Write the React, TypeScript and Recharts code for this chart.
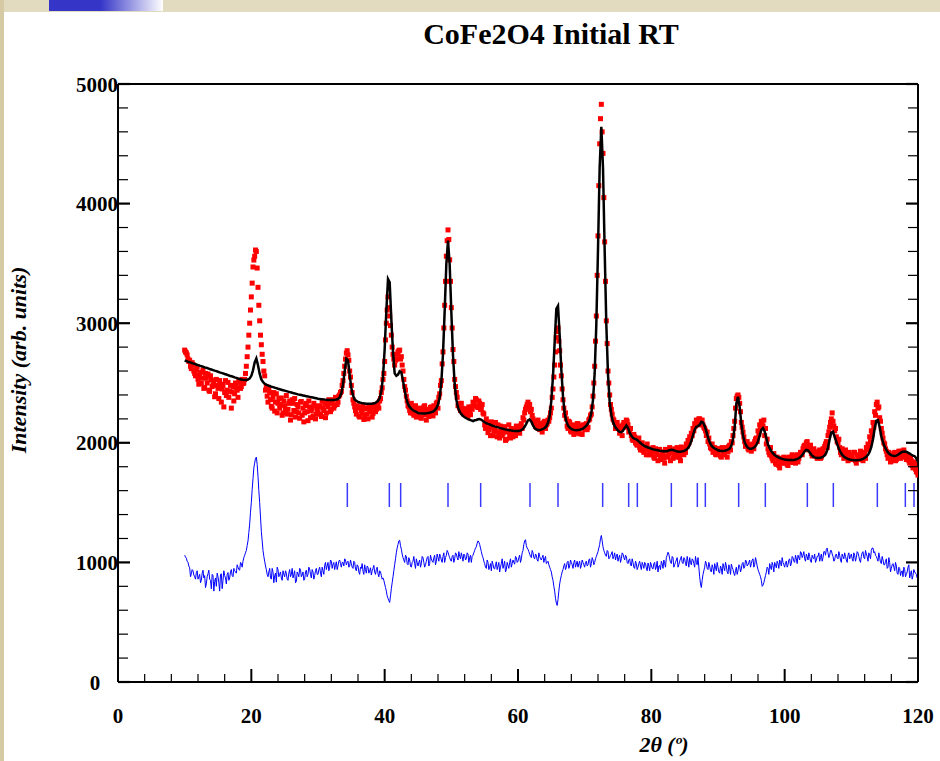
import React from "react";
import { ComposedChart, Scatter, Line, XAxis, YAxis, ReferenceLine } from "recharts";

// scan grid: 10° .. 120° every 0.25°, plus the in-between steps (10.125 .. 119.875)
const X_START = 10;
const X_STEP = 0.25;

// observed intensity (red squares), main steps
const observed = [
  2775, 2752, 2700, 2690, 2620, 2655, 2580, 2612, 2530, 2570, 2498, 2610, 2462, 2540, 2575, 2430, 2525, 2480, 2385, 2530,
  2455, 2520, 2340, 2480, 2420, 2395, 2505, 2430, 2290, 2470, 2410, 2462, 2380, 2505, 2470, 2495, 2530, 2640, 2800, 3000,
  3220, 3470, 3560, 3600, 3300, 3020, 2820, 2680, 2560, 2470, 2340, 2420, 2305, 2380, 2265, 2410, 2330, 2290, 2375, 2250,
  2310, 2395, 2280, 2350, 2235, 2330, 2370, 2260, 2300, 2205, 2345, 2290, 2250, 2330, 2185, 2300, 2270, 2225, 2310, 2240,
  2255, 2310, 2220, 2290, 2330, 2250, 2300, 2335, 2280, 2360, 2310, 2375, 2340, 2400, 2430, 2520, 2640, 2750, 2735, 2600,
  2480, 2360, 2300, 2240, 2290, 2215, 2270, 2310, 2230, 2285, 2200, 2260, 2300, 2245, 2320, 2280, 2330, 2350, 2420, 2530,
  2680, 3000, 3220, 3060, 2900, 2740, 2650, 2700, 2760, 2775, 2720, 2600, 2470, 2390, 2310, 2270, 2330, 2245, 2290, 2215,
  2230, 2290, 2205, 2270, 2310, 2190, 2265, 2240, 2300, 2225, 2280, 2330, 2290, 2410, 2520, 2760, 3150, 3560, 3780, 3530,
  3130, 2780, 2530, 2420, 2310, 2290, 2330, 2255, 2240, 2285, 2220, 2265, 2300, 2340, 2310, 2360, 2295, 2330, 2280, 2250,
  2150, 2200, 2085, 2130, 2175, 2060, 2120, 2095, 2150, 2040, 2110, 2080, 2135, 2030, 2100, 2065, 2120, 2050, 2090, 2140,
  2120, 2080, 2160, 2210, 2250, 2300, 2340, 2320, 2280, 2200, 2170, 2130, 2190, 2110, 2160, 2140, 2180, 2150, 2190, 2210,
  2290, 2450, 2650, 2880, 2960, 2770, 2560, 2360, 2230, 2200, 2120, 2170, 2090, 2145, 2080, 2130, 2160, 2075, 2125, 2150,
  2110, 2160, 2130, 2200, 2240, 2390, 2640, 3060, 3730, 4500, 4830, 4420, 3680, 3020, 2600, 2400, 2280, 2200, 2170, 2150,
  2130, 2080, 2110, 2150, 2160, 2190, 2150, 2100, 2060, 2020, 2050, 1990, 2010, 1960, 1990, 1935, 1970, 1900, 1945, 1920,
  1900, 1960, 1870, 1925, 1850, 1945, 1890, 1910, 1830, 1935, 1880, 1960, 1920, 1870, 1950, 1900, 1940, 1880, 1965, 1920,
  1950, 1990, 2020, 2050, 2080, 2120, 2160, 2190, 2170, 2200, 2180, 2150, 2120, 2060, 2010, 1990, 1950, 1920, 1960, 1900,
  1910, 1950, 1880, 1930, 1900, 1960, 1925, 1980, 2010, 2060, 2180, 2370, 2400, 2330, 2170, 2090, 2010, 1990, 1950, 1985,
  1930, 1990, 2010, 2040, 2100, 2150, 2180, 2140, 2060, 1990, 1950, 1900, 1890, 1850, 1880, 1820, 1860, 1790, 1850, 1870,
  1830, 1870, 1810, 1850, 1880, 1835, 1860, 1890, 1840, 1900, 1920, 1950, 1980, 2000, 1970, 1950, 1910, 1930, 1890, 1920,
  1900, 1940, 1880, 1950, 1970, 2010, 2060, 2130, 2200, 2180, 2100, 2050, 2000, 1960, 1900, 1930, 1880, 1910, 1850, 1890,
  1900, 1860, 1920, 1830, 1890, 1870, 1910, 1850, 1920, 1960, 1990, 2050, 2100, 2170, 2260, 2320, 2290, 2210, 2120, 2040,
  1990, 1930, 1870, 1900, 1850, 1880, 1920, 1860, 1900, 1880, 1930, 1890, 1910, 1860, 1880, 1830, 1850, 1790, 1820, 1760, 1730,
];

// observed intensity, in-between steps
const observedMid = [
  2760, 2735, 2680, 2640, 2670, 2600, 2560, 2635, 2490, 2590, 2540, 2455, 2580, 2500, 2440, 2560, 2470, 2520, 2410, 2480,
  2370, 2490, 2450, 2300, 2520, 2440, 2380, 2480, 2425, 2350, 2500, 2440, 2520, 2455, 2530, 2500, 2580, 2720, 2900, 3110,
  3335, 3528, 3612, 3461, 3150, 2900, 2740, 2600, 2440, 2390, 2450, 2360, 2290, 2420, 2340, 2250, 2370, 2320, 2230, 2350,
  2280, 2240, 2330, 2190, 2360, 2270, 2215, 2320, 2250, 2340, 2230, 2175, 2310, 2260, 2350, 2210, 2290, 2330, 2200, 2280,
  2300, 2240, 2350, 2270, 2210, 2320, 2360, 2260, 2330, 2290, 2380, 2320, 2390, 2420, 2480, 2580, 2700, 2770, 2690, 2550,
  2420, 2330, 2270, 2310, 2225, 2300, 2250, 2195, 2290, 2240, 2310, 2270, 2215, 2300, 2260, 2310, 2290, 2370, 2460, 2580,
  2860, 3110, 3130, 2980, 2800, 2700, 2690, 2740, 2770, 2700, 2650, 2530, 2440, 2350, 2300, 2250, 2290, 2230, 2310, 2270,
  2280, 2215, 2260, 2300, 2235, 2280, 2220, 2295, 2260, 2310, 2250, 2340, 2380, 2480, 2660, 2960, 3350, 3690, 3700, 3350,
  2960, 2680, 2470, 2380, 2330, 2270, 2290, 2240, 2280, 2250, 2300, 2235, 2280, 2320, 2370, 2300, 2350, 2280, 2320, 2240,
  2120, 2170, 2110, 2060, 2140, 2100, 2170, 2050, 2080, 2140, 2060, 2110, 2020, 2090, 2150, 2040, 2080, 2110, 2060, 2100,
  2090, 2140, 2120, 2190, 2280, 2320, 2300, 2260, 2230, 2170, 2140, 2180, 2120, 2150, 2090, 2170, 2120, 2160, 2180, 2250,
  2380, 2550, 2760, 2930, 2850, 2650, 2450, 2290, 2250, 2140, 2180, 2100, 2150, 2070, 2120, 2160, 2090, 2140, 2070, 2130,
  2150, 2110, 2190, 2230, 2300, 2500, 2850, 3400, 4150, 4710, 4600, 4050, 3350, 2830, 2500, 2320, 2240, 2190, 2120, 2170,
  2140, 2110, 2060, 2170, 2130, 2180, 2090, 2120, 2030, 2070, 2000, 1980, 2040, 1940, 2000, 1920, 1960, 1990, 1900, 1950,
  1920, 1880, 1950, 1900, 1940, 1860, 1925, 1870, 1945, 1890, 1910, 1850, 1940, 1900, 1880, 1960, 1910, 1850, 1930, 1900,
  1920, 1970, 2000, 2030, 2060, 2100, 2140, 2170, 2200, 2150, 2190, 2130, 2100, 2090, 2040, 1960, 1990, 1930, 1905, 1950,
  1940, 1890, 1960, 1905, 1945, 1880, 1970, 1940, 2000, 2120, 2290, 2390, 2380, 2260, 2130, 2050, 1970, 2010, 1940, 1960,
  1970, 1950, 2030, 2010, 2070, 2130, 2170, 2190, 2120, 2030, 1920, 1960, 1870, 1910, 1830, 1880, 1810, 1870, 1830, 1880,
  1860, 1820, 1880, 1840, 1900, 1850, 1830, 1900, 1870, 1920, 1900, 1970, 1950, 2010, 1940, 1980, 1890, 1950, 1910, 1870,
  1930, 1870, 1920, 1910, 1990, 1960, 2090, 2170, 2250, 2140, 2120, 2010, 2030, 1920, 1950, 1870, 1940, 1890, 1920, 1860,
  1880, 1920, 1850, 1900, 1860, 1930, 1880, 1910, 1870, 1940, 1970, 2010, 2070, 2130, 2230, 2340, 2300, 2180, 2080, 2000,
  1950, 1900, 1920, 1840, 1880, 1910, 1850, 1890, 1930, 1870, 1910, 1940, 1880, 1900, 1850, 1870, 1810, 1840, 1780, 1750,
];

// calculated profile (black line)
const calculated = [
  2688, 2683, 2678, 2674, 2669, 2664, 2660, 2655, 2650, 2645, 2641, 2636, 2631, 2627, 2622, 2617, 2613, 2608, 2603, 2599,
  2594, 2589, 2585, 2580, 2575, 2571, 2566, 2561, 2557, 2552, 2547, 2543, 2538, 2534, 2530, 2527, 2525, 2525, 2529, 2538,
  2560, 2606, 2672, 2705, 2648, 2578, 2530, 2508, 2494, 2486, 2480, 2475, 2470, 2466, 2461, 2457, 2452, 2448, 2444, 2440,
  2436, 2432, 2428, 2424, 2420, 2416, 2413, 2409, 2405, 2402, 2399, 2396, 2393, 2390, 2387, 2384, 2381, 2378, 2375, 2372,
  2369, 2367, 2365, 2363, 2361, 2359, 2358, 2357, 2357, 2357, 2359, 2362, 2366, 2381, 2414, 2486, 2598, 2703, 2690, 2568,
  2458, 2397, 2361, 2351, 2343, 2337, 2334, 2330, 2329, 2327, 2327, 2326, 2327, 2328, 2331, 2339, 2351, 2375, 2430, 2552,
  2784, 3100, 3370, 3342, 3033, 2760, 2580, 2560, 2570, 2598, 2590, 2520, 2440, 2370, 2325, 2300, 2284, 2272, 2265, 2259,
  2249, 2247, 2246, 2246, 2246, 2247, 2249, 2251, 2256, 2261, 2271, 2289, 2320, 2380, 2508, 2744, 3101, 3495, 3690, 3492,
  3093, 2732, 2492, 2360, 2296, 2261, 2239, 2225, 2214, 2205, 2198, 2192, 2187, 2182, 2188, 2191, 2197, 2199, 2193, 2182,
  2172, 2164, 2158, 2154, 2147, 2142, 2137, 2133, 2129, 2125, 2121, 2117, 2113, 2110, 2107, 2104, 2102, 2100, 2099, 2099,
  2099, 2100, 2106, 2116, 2134, 2160, 2188, 2196, 2176, 2146, 2122, 2111, 2107, 2108, 2110, 2116, 2123, 2139, 2166, 2226,
  2353, 2558, 2842, 3120, 3145, 2899, 2611, 2386, 2248, 2179, 2144, 2127, 2117, 2110, 2107, 2105, 2107, 2109, 2113, 2119,
  2130, 2144, 2163, 2194, 2250, 2358, 2582, 2994, 3616, 4304, 4643, 4300, 3612, 2985, 2572, 2344, 2232, 2173, 2140, 2119,
  2102, 2091, 2089, 2102, 2125, 2145, 2125, 2085, 2059, 2041, 2033, 2029, 2017, 2004, 1992, 1981, 1973, 1967, 1961, 1957,
  1950, 1946, 1943, 1940, 1937, 1934, 1932, 1930, 1929, 1930, 1934, 1939, 1942, 1940, 1935, 1930, 1927, 1926, 1927, 1930,
  1935, 1942, 1955, 1978, 2015, 2065, 2110, 2135, 2140, 2150, 2175, 2170, 2140, 2095, 2045, 2005, 1978, 1962, 1952, 1945,
  1938, 1934, 1932, 1932, 1934, 1937, 1942, 1952, 1975, 2030, 2130, 2330, 2385, 2300, 2160, 2060, 2005, 1975, 1958, 1950,
  1950, 1955, 1965, 1982, 2012, 2060, 2108, 2122, 2095, 2040, 1985, 1955, 1930, 1912, 1898, 1888, 1880, 1873, 1868, 1864,
  1861, 1859, 1857, 1856, 1856, 1857, 1859, 1862, 1867, 1875, 1888, 1907, 1928, 1940, 1936, 1920, 1900, 1886, 1878, 1874,
  1873, 1874, 1877, 1883, 1895, 1917, 1960, 2030, 2085, 2092, 2050, 2010, 1970, 1935, 1910, 1893, 1880, 1871, 1865, 1861,
  1858, 1856, 1855, 1855, 1856, 1858, 1861, 1866, 1873, 1884, 1900, 1925, 1965, 2030, 2120, 2185, 2190, 2130, 2055, 2005,
  1968, 1940, 1920, 1905, 1896, 1891, 1890, 1893, 1900, 1910, 1920, 1926, 1928, 1925, 1918, 1910, 1900, 1893, 1888, 1870, 1840,
];

// difference curve, shifted (blue line), main steps
const difference = [
  1060, 1035, 1000, 955, 905, 930, 880, 915, 860, 900, 850, 935, 890, 820, 905, 860, 780, 890, 840, 800,
  880, 760, 905, 850, 890, 820, 915, 870, 940, 880, 930, 910, 960, 935, 990, 1010, 1060, 1100, 1180, 1320,
  1500, 1700, 1830, 1880, 1720, 1500, 1260, 1100, 1010, 940, 880, 950, 860, 920, 890, 835, 940, 900, 870, 930,
  880, 910, 850, 940, 900, 870, 930, 840, 905, 950, 880, 920, 860, 935, 900, 945, 870, 920, 890, 950,
  900, 960, 880, 930, 975, 940, 1000, 960, 1010, 985, 940, 1005, 970, 1020, 960, 1000, 1030, 980, 1010, 970,
  990, 950, 1000, 930, 970, 900, 950, 925, 980, 910, 960, 930, 895, 950, 920, 940, 905, 930, 890, 870,
  820, 760, 700, 665, 780, 880, 980, 1080, 1150, 1185, 1110, 1040, 1000, 1050, 980, 1020, 960, 1010, 990, 1030,
  970, 1020, 990, 1040, 960, 1010, 1050, 990, 1030, 1000, 1060, 1010, 1040, 1070, 1020, 1050, 1000, 1060, 1085, 1040,
  1010, 1060, 1030, 1070, 1020, 1050, 1080, 1010, 1060, 1030, 1070, 1040, 1000, 1060, 1100, 1130, 1180, 1150, 1090, 1040,
  990, 950, 1000, 960, 930, 985, 945, 1005, 970, 920, 990, 950, 1010, 940, 975, 1000, 960, 1020, 985, 1040,
  1010, 1060, 1030, 1100, 1180, 1140, 1110, 1070, 1040, 1080, 1030, 1060, 1010, 1050, 1020, 1060, 1030, 990, 1010, 960,
  920, 850, 760, 660, 690, 820, 890, 940, 990, 960, 1010, 970, 1000, 950, 1020, 985, 960, 1010, 975, 1000,
  960, 1010, 980, 1030, 990, 1020, 1000, 1050, 1090, 1150, 1225, 1130, 1080, 1050, 1090, 1040, 1070, 1030, 1080, 1050,
  1010, 1060, 1030, 1070, 1020, 1050, 990, 1030, 970, 1000, 950, 990, 960, 1010, 940, 980, 1000, 955, 995, 930,
  980, 945, 1000, 960, 920, 975, 1010, 950, 990, 1040, 1085, 1030, 990, 1040, 980, 1020, 960, 1010, 1050, 990,
  1030, 970, 1010, 1040, 980, 1020, 960, 1000, 1040, 880, 790, 900, 960, 990, 940, 970, 920, 955, 990, 930,
  960, 910, 950, 990, 930, 970, 905, 955, 985, 940, 890, 960, 930, 975, 945, 1000, 960, 1010, 980, 1020,
  990, 1030, 980, 1010, 940, 900, 850, 810, 860, 920, 950, 990, 940, 975, 1000, 955, 990, 1020, 970, 1000,
  960, 1010, 980, 1030, 990, 1040, 1000, 1030, 1060, 1020, 1080, 1060, 1030, 1070, 1020, 1050, 1000, 1040, 1070, 1020,
  1050, 1010, 1070, 1040, 1090, 1110, 1080, 1060, 1100, 1050, 1020, 1070, 1030, 1060, 1000, 1050, 1080, 1020, 1060, 1030,
  1070, 1010, 1060, 1040, 1080, 1020, 1050, 1090, 1030, 1070, 1010, 1060, 1100, 1120, 1090, 1050, 1010, 1040, 990, 1020,
  980, 1030, 960, 1000, 950, 990, 930, 970, 900, 950, 920, 880, 940, 900, 960, 870, 930, 890, 920, 900, 880,
];

// difference curve, in-between steps
const differenceMid = [
  1045, 1010, 970, 880, 940, 895, 860, 930, 880, 830, 910, 870, 790, 880, 935, 850, 900, 760, 870, 910,
  830, 900, 780, 930, 870, 900, 850, 920, 890, 950, 920, 980, 940, 1000, 960, 1040, 1080, 1140, 1250, 1420,
  1610, 1790, 1870, 1820, 1600, 1380, 1180, 1050, 970, 900, 920, 870, 950, 830, 910, 960, 880, 920, 850, 900,
  930, 860, 910, 880, 950, 900, 830, 920, 880, 940, 895, 850, 920, 880, 960, 900, 940, 860, 930, 900,
  940, 910, 960, 900, 1000, 970, 930, 1020, 950, 1000, 975, 940, 1010, 990, 1000, 970, 1020, 1000, 960, 1020,
  960, 1010, 945, 980, 920, 960, 990, 900, 940, 970, 910, 955, 930, 975, 900, 960, 880, 920, 860, 850,
  790, 720, 680, 720, 830, 930, 1030, 1120, 1180, 1140, 1070, 1020, 1060, 990, 1040, 970, 1000, 1050, 950, 1000,
  1000, 960, 1050, 1000, 980, 1040, 970, 1060, 1010, 1040, 980, 1070, 1010, 1050, 1000, 1080, 1040, 1100, 1060, 1020,
  1050, 1000, 1080, 1040, 1090, 1030, 1050, 1070, 1020, 1080, 1000, 1060, 1050, 1080, 1120, 1160, 1170, 1120, 1060, 1010,
  960, 1020, 940, 990, 1010, 950, 980, 940, 1000, 960, 1030, 980, 920, 1000, 950, 1030, 990, 1000, 1050, 1000,
  1040, 1000, 1080, 1150, 1190, 1120, 1090, 1050, 1100, 1040, 1070, 1020, 1080, 1030, 1040, 1000, 1050, 1000, 980, 940,
  880, 800, 700, 640, 760, 860, 920, 970, 940, 1000, 950, 1020, 980, 1000, 960, 1010, 990, 950, 1020, 980,
  1000, 970, 1020, 960, 1040, 980, 1030, 1070, 1120, 1200, 1180, 1100, 1060, 1100, 1030, 1060, 1090, 1050, 1020, 1070,
  1040, 1000, 1080, 1040, 1060, 1000, 1020, 980, 1030, 960, 1010, 940, 990, 970, 1000, 950, 990, 930, 970, 1000,
  950, 990, 940, 1010, 970, 940, 990, 1020, 960, 1060, 1070, 1000, 1050, 960, 1000, 1040, 980, 1030, 1000, 1040,
  990, 1050, 960, 1000, 1030, 990, 1050, 980, 960, 820, 850, 930, 1010, 950, 1000, 930, 980, 900, 960, 1000,
  920, 970, 900, 960, 1000, 920, 980, 900, 960, 910, 930, 900, 980, 920, 990, 950, 1020, 970, 1000, 960,
  1020, 960, 1040, 970, 920, 880, 800, 830, 890, 960, 900, 960, 1000, 920, 980, 1010, 950, 1000, 1040, 980,
  1000, 960, 1020, 970, 1050, 1010, 1060, 990, 1040, 1090, 1040, 1090, 1010, 1050, 1080, 1010, 1060, 1030, 1000, 1050,
  1080, 1040, 1010, 1090, 1060, 1120, 1040, 1100, 1070, 1010, 1060, 1040, 1090, 1020, 1070, 1030, 1050, 1000, 1080, 1050,
  1030, 1080, 1010, 1090, 1050, 1000, 1080, 1040, 1100, 1050, 1080, 1030, 1120, 1080, 1060, 1030, 1080, 1000, 1050, 980,
  1010, 950, 1040, 920, 980, 960, 1000, 910, 960, 890, 930, 960, 880, 920, 980, 900, 860, 940, 910, 870,
];

// Bragg reflection positions (2θ)
const braggPositions = [34.4, 40.7, 42.4, 49.5, 54.4, 61.8, 66.0, 72.7, 76.6, 77.9, 83.0, 86.9, 88.1, 93.1, 97.1, 103.4, 107.3, 113.9, 118.1, 119.4];
const BRAGG_LOW = 1463;
const BRAGG_HIGH = 1664;

const xTicks = [0, 4, 8, 12, 16, 20, 24, 28, 32, 36, 40, 44, 48, 52, 56, 60, 64, 68, 72, 76, 80, 84, 88, 92, 96, 100, 104, 108, 112, 116, 120];
const yTicks = [0, 200, 400, 600, 800, 1000, 1200, 1400, 1600, 1800, 2000, 2200, 2400, 2600, 2800, 3000, 3200, 3400, 3600, 3800, 4000, 4200, 4400, 4600, 4800, 5000];

const toPoints = (arr: number[], start: number) => arr.map((y, i) => ({ x: start + i * X_STEP, y }));
const byX = (a: { x: number }, b: { x: number }) => a.x - b.x;

const obsData = [...toPoints(observed, X_START), ...toPoints(observedMid, X_START + X_STEP / 2)];
const calcData = toPoints(calculated, X_START);
const diffData = [...toPoints(difference, X_START), ...toPoints(differenceMid, X_START + X_STEP / 2)].sort(byX);

const serif = "'Liberation Serif', 'Times New Roman', serif";
const tickFont = { fontFamily: serif, fontWeight: 700, fontSize: 21, fill: "#000" };

const BottomTick = (props: any) => {
  const { x, y, payload } = props;
  const v = payload.value;
  const major = v % 20 === 0;
  return (
    <g>
      <line x1={x} x2={x} y1={y} y2={y - (major ? 13 : 8)} stroke="#000" strokeWidth={major ? 2 : 1.2} />
      {major && (
        <text x={x} y={y + 41} textAnchor="middle" style={tickFont}>
          {v}
        </text>
      )}
    </g>
  );
};

const TopTick = (props: any) => {
  const { x, y, payload } = props;
  const major = payload.value % 20 === 0;
  return <line x1={x} x2={x} y1={y} y2={y + (major ? 13 : 8)} stroke="#000" strokeWidth={major ? 2 : 1.2} />;
};

const LeftTick = (props: any) => {
  const { x, y, payload } = props;
  const v = payload.value;
  const major = v % 1000 === 0;
  return (
    <g>
      <line x1={x} x2={x + (major ? 12 : 10)} y1={y} y2={y} stroke="#000" strokeWidth={major ? 2.2 : 1.2} />
      {major && (
        <text x={v === 0 ? x - 23 : x} y={y + 7.5} textAnchor={v === 0 ? "middle" : "end"} style={tickFont}>
          {v}
        </text>
      )}
    </g>
  );
};

const RightTick = (props: any) => {
  const { x, y, payload } = props;
  const major = payload.value % 1000 === 0;
  return <line x1={x} x2={x - (major ? 12 : 10)} y1={y} y2={y} stroke="#000" strokeWidth={major ? 2.2 : 1.2} />;
};

const RedSquare = (props: any) => {
  const { cx, cy } = props;
  if (cx == null || cy == null) return null;
  return <rect x={cx - 2.5} y={cy - 2.5} width={5} height={5} fill="#ff0000" />;
};

const NoMark = () => <g />;

const axisLine = { stroke: "#000", strokeWidth: 2 };

export default function App() {
  return (
    <div style={{ position: "absolute", left: 0, top: 0, width: 940, height: 761, background: "#fff", overflow: "hidden" }}>
      {/* slide frame decoration */}
      <div style={{ position: "absolute", left: 0, top: 0, width: 940, height: 12, background: "#e2dbc0" }} />
      <div style={{ position: "absolute", left: 0, top: 0, width: 4, height: 761, background: "#d5caa3" }} />
      <div
        style={{
          position: "absolute",
          left: 49,
          top: 0,
          width: 114,
          height: 11,
          background: "linear-gradient(to right, #3535c8 0%, #3535c8 45%, #ffffff 100%)",
        }}
      />

      <ComposedChart width={940} height={761} margin={{ top: 74, right: 12, bottom: 19, left: 18 }}>
        <XAxis
          type="number"
          dataKey="x"
          domain={[0, 120]}
          ticks={xTicks}
          interval={0}
          height={60}
          tickSize={0}
          tickMargin={0}
          tickLine={false}
          axisLine={axisLine}
          tick={BottomTick}
          allowDataOverflow
        />
        <XAxis
          xAxisId="top"
          orientation="top"
          type="number"
          domain={[0, 120]}
          ticks={xTicks}
          interval={0}
          height={10}
          tickSize={0}
          tickMargin={0}
          tickLine={false}
          axisLine={axisLine}
          tick={TopTick}
          allowDataOverflow
        />
        <YAxis
          type="number"
          dataKey="y"
          domain={[0, 5000]}
          ticks={yTicks}
          interval={0}
          width={100}
          tickSize={0}
          tickMargin={0}
          tickLine={false}
          axisLine={axisLine}
          tick={LeftTick}
          allowDataOverflow
        />
        <YAxis
          yAxisId="right"
          orientation="right"
          type="number"
          domain={[0, 5000]}
          ticks={yTicks}
          interval={0}
          width={10}
          tickSize={0}
          tickMargin={0}
          tickLine={false}
          axisLine={axisLine}
          tick={RightTick}
          allowDataOverflow
        />

        <Line data={diffData} dataKey="y" type="linear" stroke="#0000ff" strokeWidth={1} dot={false} isAnimationActive={false} />
        {braggPositions.map((p) => (
          <ReferenceLine
            key={p}
            segment={[
              { x: p, y: BRAGG_LOW },
              { x: p, y: BRAGG_HIGH },
            ]}
            stroke="#3a3aff"
            strokeWidth={1.5}
          />
        ))}
        {/* observed first, calculated profile drawn over it */}
        <Scatter data={obsData} shape={RedSquare} isAnimationActive={false} />
        <Scatter
          data={calcData}
          shape={NoMark}
          line={{ stroke: "#000", strokeWidth: 2.5 }}
          lineType="joint"
          isAnimationActive={false}
        />
      </ComposedChart>

      <svg width={940} height={761} style={{ position: "absolute", left: 0, top: 0, pointerEvents: "none" }}>
        <text x={551} y={44} textAnchor="middle" style={{ fontFamily: serif, fontWeight: 700, fontSize: 30, fill: "#000" }}>
          CoFe2O4 Initial RT
        </text>
        <text
          x={0}
          y={0}
          transform="translate(26 360) rotate(-90)"
          textAnchor="middle"
          style={{ fontFamily: serif, fontWeight: 700, fontStyle: "italic", fontSize: 22, fill: "#000" }}
        >
          Intensity (arb. units)
        </text>
        <text x={664} y={752} textAnchor="middle" style={{ fontFamily: serif, fontWeight: 700, fontStyle: "italic", fontSize: 22, fill: "#000" }}>
          2θ (º)
        </text>
      </svg>
    </div>
  );
}
